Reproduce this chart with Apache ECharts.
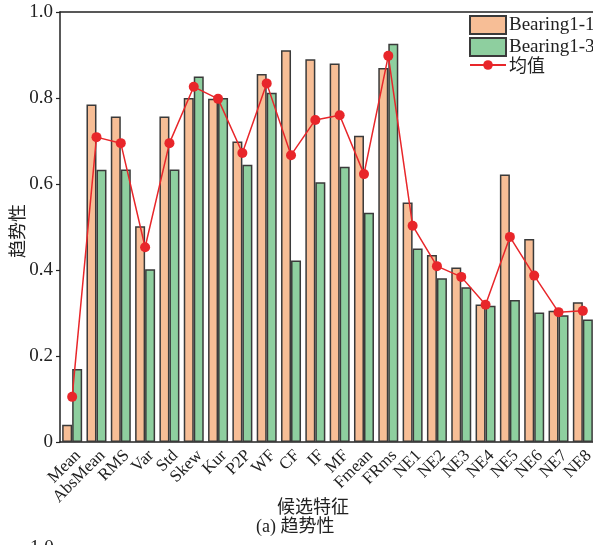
<!DOCTYPE html>
<html>
<head>
<meta charset="utf-8">
<script src="https://cdn.jsdelivr.net/npm/echarts@6/dist/echarts.min.js"></script>
<style>
  html, body { margin: 0; padding: 0; background: #fff; }
  #chart { width: 593px; height: 545px; }
</style>
</head>
<body>
<div id="chart"></div>
<script>
// Candidate features on the x axis
const categories = ['Mean', 'AbsMean', 'RMS', 'Var', 'Std', 'Skew', 'Kur', 'P2P', 'WF', 'CF',
  'IF', 'MF', 'Fmean', 'FRms', 'NE1', 'NE2', 'NE3', 'NE4', 'NE5', 'NE6', 'NE7', 'NE8'];

// Trend score per feature, bearing 1-1
const bearing11 = [0.040, 0.785, 0.757, 0.502, 0.757, 0.800, 0.798, 0.699, 0.856, 0.911,
  0.890, 0.880, 0.712, 0.870, 0.557, 0.435, 0.406, 0.320, 0.622, 0.472, 0.305, 0.325];

// Trend score per feature, bearing 1-3
const bearing13 = [0.170, 0.633, 0.634, 0.402, 0.634, 0.850, 0.800, 0.645, 0.812, 0.422,
  0.604, 0.640, 0.533, 0.926, 0.450, 0.381, 0.360, 0.317, 0.330, 0.301, 0.295, 0.285];

// Mean trend score of the two bearings
const meanValues = [0.105, 0.709, 0.695, 0.453, 0.695, 0.826, 0.798, 0.672, 0.834, 0.667,
  0.749, 0.760, 0.623, 0.898, 0.503, 0.409, 0.384, 0.319, 0.477, 0.387, 0.302, 0.305];

const yTicks = { min: 0, max: 1.0, interval: 0.2 };

const serif = '"Liberation Serif", "Times New Roman", serif';
const cjk = '"Noto Sans CJK SC", sans-serif';
const axisColor = '#222';
const textColor = '#222';

const chart = echarts.init(document.getElementById('chart'), null, { renderer: 'canvas' });

chart.setOption({
  animation: false,
  backgroundColor: '#fff',
  grid: { left: 60, top: 12, width: 535, height: 430, containLabel: false, outerBoundsMode: 'none' },
  legend: [
    {
      left: 469,
      top: 15,
      orient: 'vertical',
      itemWidth: 36,
      itemHeight: 18,
      itemGap: 2,
      padding: 0,
      textStyle: { fontFamily: serif, fontSize: 19, color: textColor, padding: [0, 0, 0, -2] },
      data: [
        { name: 'Bearing1-1', icon: 'rect' },
        { name: 'Bearing1-3', icon: 'rect' }
      ]
    },
    {
      left: 469,
      top: 56,
      orient: 'vertical',
      itemWidth: 36,
      itemHeight: 12,
      padding: 0,
      textStyle: { fontFamily: cjk, fontSize: 18, color: textColor, padding: [0, 0, 0, -2] },
      data: [{ name: '均值' }]
    }
  ],
  xAxis: [
    {
      type: 'category',
      data: categories,
      position: 'bottom',
      axisLine: { show: true, lineStyle: { color: axisColor, width: 1.5 } },
      axisTick: { show: false },
      axisLabel: {
        interval: 0,
        rotate: 45,
        margin: 5,
        verticalAlign: 'top',
        fontFamily: serif,
        fontSize: 17,
        color: textColor
      }
    },
    {
      type: 'category',
      data: categories,
      position: 'top',
      axisLine: { show: true, lineStyle: { color: axisColor, width: 1.5 } },
      axisTick: { show: false },
      axisLabel: { show: false }
    }
  ],
  yAxis: {
    type: 'value',
    min: yTicks.min,
    max: yTicks.max,
    interval: yTicks.interval,
    axisLine: { show: true, lineStyle: { color: axisColor, width: 1.5 } },
    axisTick: { show: true, inside: false, length: 4, lineStyle: { color: axisColor, width: 1.2 } },
    splitLine: { show: false },
    axisLabel: {
      margin: 7,
      fontFamily: serif,
      fontSize: 19,
      color: textColor,
      formatter: v => v.toFixed(1).replace(/^0\.0$/, '0')
    }
  },
  series: [
    {
      name: 'Bearing1-1',
      type: 'bar',
      data: bearing11,
      barWidth: 10,
      barGap: '0%',
      itemStyle: { color: '#F7BE96', borderColor: '#3a3a3a', borderWidth: 1.5 }
    },
    {
      name: 'Bearing1-3',
      type: 'bar',
      data: bearing13,
      barWidth: 10,
      barGap: '0%',
      itemStyle: { color: '#8ECF9F', borderColor: '#3a3a3a', borderWidth: 1.5 }
    },
    {
      name: '均值',
      type: 'line',
      data: meanValues,
      symbol: 'circle',
      symbolSize: 10,
      z: 5,
      lineStyle: { color: '#E8262A', width: 1.5 },
      itemStyle: { color: '#E8262A' }
    }
  ],
  graphic: [
    {
      type: 'text',
      x: 17, y: 231,
      rotation: Math.PI / 2,
      style: { text: '趋势性', fontFamily: cjk, fontSize: 18, fill: textColor, align: 'center', verticalAlign: 'middle' }
    },
    {
      type: 'text',
      left: 277, top: 497,
      style: { text: '候选特征', fontFamily: cjk, fontSize: 18, fill: textColor }
    },
    {
      type: 'text',
      left: 256, top: 518,
      style: { text: '(a) 趋势性', fontFamily: serif + ', ' + cjk, fontSize: 18, fill: textColor }
    },
    {
      type: 'text',
      left: 30, top: 539,
      style: { text: '1.0', fontFamily: serif, fontSize: 19, fill: textColor }
    }
  ]
});
</script>
</body>
</html>
